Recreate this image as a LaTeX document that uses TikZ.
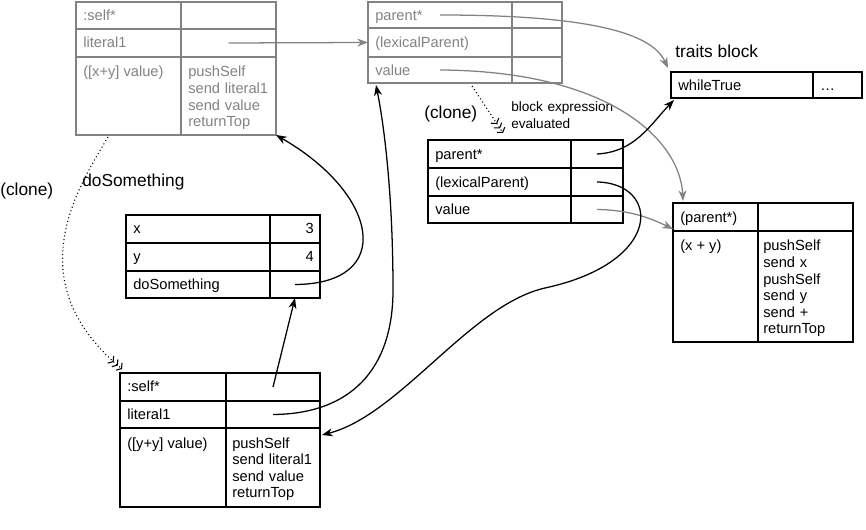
\documentclass[tikz,border=0pt]{standalone}
\usepackage{fontspec}
\setmainfont{Liberation Sans}
\usetikzlibrary{arrows.meta,fit}
\definecolor{ghost}{RGB}{130,130,130}
\begin{document}
\begin{tikzpicture}[x=0.75pt,y=-0.75pt,
  cell/.style={draw, line width=2.2pt, inner sep=0pt, outer sep=0pt},
  gcell/.style={cell, draw=ghost},
  txt/.style={inner sep=0pt, font=\fontsize{11}{12.4}\selectfont, anchor=base west},
  rtxt/.style={txt, anchor=base east},
  gtxt/.style={txt, text=ghost},
  code/.style={txt, align=left, text width=90pt},
  gcode/.style={code, text=ghost},
  lbl/.style={inner sep=0pt, font=\fontsize{13}{15}\selectfont, anchor=base west},
  small/.style={inner sep=0pt, font=\fontsize{10.2}{12.5}\selectfont, anchor=base west, align=left, text width=90pt},
  ptr/.style={line width=0.95pt, -{Stealth[length=8pt,width=6pt,inset=2.5pt]}},
  gptr/.style={ptr, draw=ghost, -{Stealth[length=8pt,width=6pt,inset=2.5pt,color=ghost]}},
  clonearrow/.style={line width=0.8pt, dotted,
    -{Straight Barb[length=2.4pt,width=7pt,sep=0.8pt]Straight Barb[length=2.4pt,width=7pt,sep=0.8pt]Straight Barb[length=2.4pt,width=7pt]}}
]
\useasboundingbox (0,0) rectangle (866,530);

% ---- top-left gray method box
\node[gcell, fit={(76,2) (181,29)}] (A1) {};
\node[gcell, fit={(181,2) (276,29)}] (A2) {};
\node[gcell, fit={(76,29) (181,57)}] (A3) {};
\node[gcell, fit={(181,29) (276,57)}] (A4) {};
\node[gcell, fit={(76,57) (181,135)}] (A5) {};
\node[gcell, fit={(181,57) (276,135)}] (A6) {};
\node[gtxt] (a1t) at (83,20.5) {:self*};
\node[gtxt] (a3t) at (83,48) {literal1};
\node[gtxt] (a5t) at (83,77) {([x+y] value)};
\node[gcode] (a6t) at (188,77) {pushSelf\\send literal1\\send value\\returnTop};

% ---- top-middle gray block
\node[gcell, fit={(368,2) (512,28)}] (B1) {};
\node[gcell, fit={(512,2) (562,28)}] (B2) {};
\node[gcell, fit={(368,28) (512,57)}] (B3) {};
\node[gcell, fit={(512,28) (562,57)}] (B4) {};
\node[gcell, fit={(368,57) (512,83)}] (B5) {};
\node[gcell, fit={(512,57) (562,83)}] (B6) {};
\node[gtxt] (b1t) at (375,20.5) {parent*};
\node[gtxt] (b3t) at (375,48) {(lexicalParent)};
\node[gtxt] (b5t) at (375,75.5) {value};

% ---- cloned block
\node[cell, fit={(428,140) (571,168)}] (C1) {};
\node[cell, fit={(571,140) (623,168)}] (C2) {};
\node[cell, fit={(428,168) (571,196)}] (C3) {};
\node[cell, fit={(571,168) (623,196)}] (C4) {};
\node[cell, fit={(428,196) (571,223)}] (C5) {};
\node[cell, fit={(571,196) (623,223)}] (C6) {};
\node[txt] (c1t) at (435,159.5) {parent*};
\node[txt] (c3t) at (435,187.5) {(lexicalParent)};
\node[txt] (c5t) at (435,215) {value};

% ---- traits block
\node[lbl] (tl) at (675,58) {traits block};
\node[cell, fit={(671,72) (813,98)}] (T1) {};
\node[cell, fit={(813,72) (862,98)}] (T2) {};
\node[txt] (t1t) at (678,90.5) {whileTrue};
\node[txt] (t2t) at (820,90.5) {…};

% ---- block method
\node[cell, fit={(673,203) (758,231)}] (R1) {};
\node[cell, fit={(758,203) (853,231)}] (R2) {};
\node[cell, fit={(673,231) (758,342)}] (R3) {};
\node[cell, fit={(758,231) (853,342)}] (R4) {};
\node[txt] (r1t) at (680,222.5) {(parent*)};
\node[txt] (r3t) at (680,251) {(x + y)};
\node[code] (r4t) at (763,251) {pushSelf\\send x\\pushSelf\\send y\\send +\\returnTop};

% ---- receiver object
\node[cell, fit={(126,215) (270,243)}] (X1) {};
\node[cell, fit={(270,215) (320,243)}] (X2) {};
\node[cell, fit={(126,243) (270,271)}] (X3) {};
\node[cell, fit={(270,243) (320,271)}] (X4) {};
\node[cell, fit={(126,271) (270,298)}] (X5) {};
\node[cell, fit={(270,271) (320,298)}] (X6) {};
\node[txt] (x1t) at (133,234) {x};
\node[txt] (x3t) at (133,262) {y};
\node[txt] (x5t) at (133,289.5) {doSomething};
\node[rtxt] (x2t) at (314,234) {3};
\node[rtxt] (x4t) at (314,262) {4};

% ---- activation (clone of method)
\node[cell, fit={(120,373) (226,401)}] (D1) {};
\node[cell, fit={(226,373) (320,401)}] (D2) {};
\node[cell, fit={(120,401) (226,428)}] (D3) {};
\node[cell, fit={(226,401) (320,428)}] (D4) {};
\node[cell, fit={(120,428) (226,507)}] (D5) {};
\node[cell, fit={(226,428) (320,507)}] (D6) {};
\node[txt] (d1t) at (127,392) {:self*};
\node[txt] (d3t) at (127,419.5) {literal1};
\node[txt] (d5t) at (127,448) {([y+y] value)};
\node[code] (d6t) at (232,448) {pushSelf\\send literal1\\send value\\returnTop};

% ---- labels
\node[lbl] (lclone1) at (0,196) {(clone)};
\node[lbl] (ldo) at (82,187) {doSomething};
\node[lbl] (lclone2) at (424,119) {(clone)};
\node[small] (lblock) at (511,111.5) {block expression\\evaluated};

% ---- free ends
\coordinate (cA) at (108,137);
\coordinate (cD) at (122,369);
\coordinate (cB) at (472,86);
\coordinate (cC) at (503,133);
\coordinate (tA) at (668,68);
\coordinate (tR) at (683,201);
\coordinate (tR2) at (673,229);
\coordinate (tT) at (674,100);
\coordinate (tD) at (322,435);
\coordinate (tB) at (376,85);

% ---- connectors
\draw[gptr] (A4.center) -- (B3.west);
\draw[gptr] (B1.center) .. controls (615,15) and (655,40) .. (tA);
\draw[gptr] (B5.center) .. controls (610,71) and (680,140) .. (tR);
\draw[gptr] (C6.center) .. controls (630,210) and (650,218) .. (tR2);
\draw[ptr] (C2.center) .. controls (635,152) and (650,125) .. (tT);
\draw[ptr] (C4.center) .. controls (660,183) and (665,262) .. (545,288)
  .. controls (470,305) and (400,415) .. (tD);
\draw[ptr] (D4.center) .. controls (350,414) and (393,370) .. (393,290)
  .. controls (393,200) and (385,130) .. (tB);
\draw[ptr] (D2.center) -- (X6.south);
\draw[ptr] (X6.center) .. controls (395,284) and (380,195) .. (A6.south east);
\draw[clonearrow] (cA) .. controls (80,185) and (15,280) .. (cD);
\draw[clonearrow] (cB) -- (cC);
\end{tikzpicture}
\end{document}
